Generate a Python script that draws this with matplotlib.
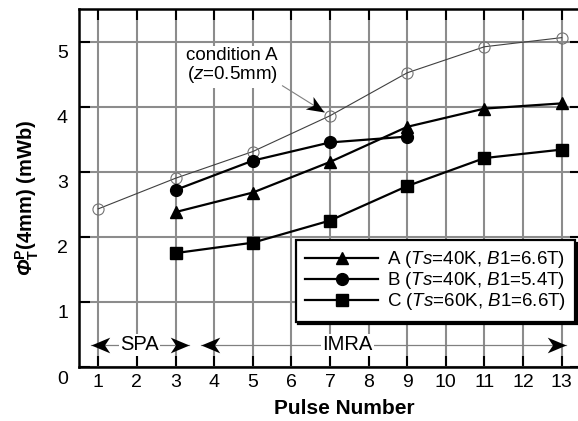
import numpy as np
import matplotlib
matplotlib.use("Agg")
import matplotlib.pyplot as plt
from matplotlib.path import Path
from matplotlib.transforms import Affine2D, ScaledTranslation

plt.rcParams['font.family'] = ['Liberation Sans', 'DejaVu Sans']
plt.rcParams['mathtext.fontset'] = 'custom'
plt.rcParams['mathtext.rm'] = 'Liberation Sans'
plt.rcParams['mathtext.it'] = 'Liberation Sans:italic'
plt.rcParams['mathtext.bf'] = 'Liberation Sans:bold'
plt.rcParams['mathtext.bfit'] = 'Liberation Sans:italic:bold'

# Flux Phi_T^P at 4 mm versus pulse number
pulses_ref = [1, 3, 5, 7, 9, 11, 13]
flux_ref = [2.43, 2.90, 3.31, 3.86, 4.52, 4.92, 5.06]

pulses_A = [3, 5, 7, 9, 11, 13]
flux_A = [2.38, 2.68, 3.15, 3.69, 3.97, 4.05]

pulses_B = [3, 5, 7, 9]
flux_B = [2.72, 3.17, 3.45, 3.54]

pulses_C = [3, 5, 7, 9, 11, 13]
flux_C = [1.75, 1.91, 2.25, 2.78, 3.21, 3.34]

labels = [r'A ($\mathit{Ts}$=40K, $\mathit{B1}$=6.6T)',
          r'B ($\mathit{Ts}$=40K, $\mathit{B1}$=5.4T)',
          r'C ($\mathit{Ts}$=60K, $\mathit{B1}$=6.6T)']

x_ticks = list(range(1, 14))
y_ticks = [0, 1, 2, 3, 4, 5]

fig = plt.figure(figsize=(5.78, 4.21), dpi=100)
ax = fig.add_axes([79 / 578, 54 / 421, 502 / 578, 358 / 421])
ax.set_xlim(0.5, 13.5)
ax.set_ylim(0, 5.5)

ax.set_xticks(x_ticks)
ax.set_yticks(y_ticks)
ax.grid(True, color='0.55', lw=1.5, zorder=0)
ax.set_axisbelow(True)
ax.tick_params(direction='in', length=8, width=1.5, top=True, right=True,
               labelsize=14, pad=5, color='k')
ax.tick_params(axis='y', pad=8)
for s in ax.spines.values():
    s.set_linewidth(1.8)

# shift y tick labels slightly downward
offset = ScaledTranslation(0, -0.10, fig.dpi_scale_trans)
for lab in ax.get_yticklabels():
    lab.set_transform(lab.get_transform() + offset)

# reference curve (condition A at z = 0.5 mm)
ax.plot(pulses_ref, flux_ref, color='0.25', lw=0.8, marker='o', ms=8,
        mfc='none', mec='0.45', mew=0.8, zorder=3)

hA, = ax.plot(pulses_A, flux_A, color='k', lw=1.6, marker='^', ms=8.5, zorder=4)
hB, = ax.plot(pulses_B, flux_B, color='k', lw=1.6, marker='o', ms=8.5, zorder=4)
hC, = ax.plot(pulses_C, flux_C, color='k', lw=1.6, marker='s', ms=8, zorder=4)

leg = ax.legend([hA, hB, hC], labels, loc='upper right',
                bbox_to_anchor=(0.988, 0.355), borderaxespad=0,
                fontsize=13.5, handlelength=3.9, handletextpad=0.45,
                labelspacing=0.0, fancybox=False, framealpha=1,
                edgecolor='k', shadow={'color': 'k', 'alpha': 1},
                borderpad=0.5)
leg.get_frame().set_linewidth(1.6)
leg.set_zorder(6)

ax.set_xlabel('Pulse Number', fontsize=15, fontweight='bold')
ax.xaxis.set_label_coords(0.528, -0.09)
ax.set_ylabel(r'$\mathbfit{\Phi}_{\mathbf{T}}^{\mathbf{P}}$(4mm) (mWb)',
              fontsize=14.5, fontweight='bold')
ax.yaxis.set_label_coords(-0.075, 0.472)

# notched arrowhead marker, tip at origin pointing along +x
head_path = Path([(0, 0), (-1, 0.42), (-0.72, 0), (-1, -0.42), (0, 0)],
                 [Path.MOVETO, Path.LINETO, Path.LINETO, Path.LINETO, Path.CLOSEPOLY])


def head_marker(angle_deg):
    return head_path.transformed(Affine2D().rotate_deg(angle_deg))


def draw_head(x, y, angle_deg, size=27):
    ax.plot([x], [y], marker=head_marker(angle_deg), ms=size, color='k',
            mew=0, linestyle='none', zorder=5, clip_on=False)


# SPA / IMRA ranges
y_rng = 0.34
spa = (0.82, 3.36)
imra = (3.67, 13.1)
for (x0, x1), name, xt in [(spa, 'SPA', 2.06), (imra, 'IMRA', 7.45)]:
    ax.plot([x0, x1], [y_rng, y_rng], color='0.5', lw=0.9, zorder=3)
    draw_head(x0, y_rng, 180)
    draw_head(x1, y_rng, 0)
    ax.text(xt, y_rng, name, fontsize=14.5, ha='center', va='center', zorder=4,
            bbox=dict(facecolor='white', edgecolor='none', pad=1))

# annotation of the reference curve
ax.text(4.47, 4.62, 'condition A\n' + r'($\mathit{z}$=0.5mm)', fontsize=13.5,
        ha='center', va='center', linespacing=1.0, zorder=4,
        bbox=dict(facecolor='white', edgecolor='none', pad=2))
p_tail = (5.77, 4.32)
p_tip = (6.85, 3.92)
ax.plot([p_tail[0], p_tip[0]], [p_tail[1], p_tip[1]], color='0.5', lw=0.8, zorder=4)
d0 = ax.transData.transform(p_tail)
d1 = ax.transData.transform(p_tip)
ang = np.degrees(np.arctan2(d1[1] - d0[1], d1[0] - d0[0]))
draw_head(p_tip[0], p_tip[1], ang, size=27)

fig.savefig('out.png', dpi=100)
